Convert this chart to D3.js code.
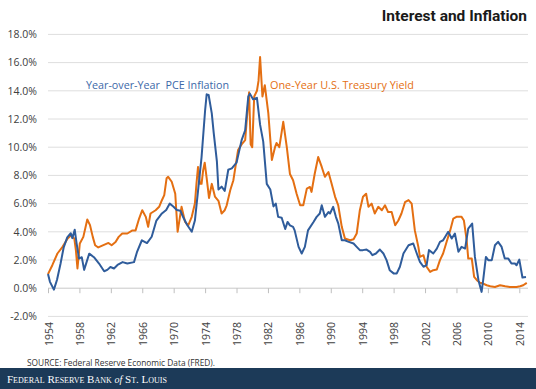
<!DOCTYPE html>
<html>
<head>
<meta charset="utf-8">
<script src="https://cdn.jsdelivr.net/npm/d3@7"></script>
<style>
  body { margin: 0; background: #fff; }
  svg { display: block; }
</style>
</head>
<body>
<svg id="chart"></svg>
<script>
// tick values
const yTicks = [-2, 0, 2, 4, 6, 8, 10, 12, 14, 16, 18];
const xTicks = [1954, 1958, 1962, 1966, 1970, 1974, 1978, 1982, 1986, 1990, 1994, 1998, 2002, 2006, 2010, 2014];

// Year-over-Year PCE inflation
const pceYears = [1954.0, 1954.25, 1954.75, 1955.15, 1955.6, 1956.0, 1956.45, 1956.9, 1957.1, 1957.4, 1957.65, 1957.95,
  1958.3, 1958.6, 1959.25, 1959.85, 1960.5, 1961.15, 1961.55, 1961.95, 1962.4, 1962.85, 1963.5, 1964.1, 1964.95,
  1965.35, 1965.95, 1966.6, 1967.2, 1967.8, 1968.5, 1969.05, 1969.5, 1969.95, 1970.4, 1970.85, 1971.2, 1971.7,
  1972.3, 1972.7, 1973.1, 1973.55, 1974.0, 1974.2, 1974.45, 1974.85, 1975.1, 1975.5, 1975.7, 1976.1, 1976.5,
  1976.95, 1977.4, 1978.0, 1978.65, 1979.1, 1979.5, 1979.7, 1980.1, 1980.6, 1981.0, 1981.4, 1981.85, 1982.3,
  1982.7, 1983.0, 1983.3, 1983.75, 1984.2, 1984.5, 1984.8, 1985.2, 1985.4, 1985.9, 1986.3, 1986.7, 1987.1, 1987.8,
  1988.2, 1988.6, 1988.85, 1989.25, 1989.7, 1989.9, 1990.3, 1990.65, 1990.95, 1991.4, 1991.8, 1992.2, 1992.9,
  1993.3, 1993.7, 1994.1, 1994.55, 1995.0, 1995.3, 1995.75, 1996.25, 1996.7, 1997.1, 1997.5, 1998.0, 1998.4,
  1998.8, 1999.25, 1999.9, 2000.5, 2000.95, 2001.35, 2001.8, 2002.2, 2002.5, 2003.05, 2003.5, 2003.9, 2004.3,
  2004.95, 2005.4, 2005.8, 2006.25, 2006.65, 2007.1, 2007.5, 2008.0, 2008.35, 2008.8, 2009.2, 2009.4, 2009.75,
  2010.05, 2010.5, 2010.9, 2011.3, 2011.75, 2012.15, 2012.6, 2013.0, 2013.45, 2013.65, 2014.0, 2014.4, 2014.85];
const pceValues = [1.0, 0.45, -0.1, 0.6, 1.75, 2.9, 3.6, 3.9, 3.55, 4.15, 3.15, 2.1,
  2.2, 1.3, 2.45, 2.2, 1.75, 1.2, 1.3, 1.5, 1.4, 1.65, 1.85, 1.75, 1.85,
  2.6, 3.4, 3.2, 3.65, 4.8, 5.3, 5.55, 6.0, 5.8, 5.55, 5.5, 5.05, 4.5,
  4.0, 4.8, 6.9, 9.3, 12.6, 13.75, 13.7, 12.4, 11.0, 9.0, 7.0, 7.2, 6.9,
  8.4, 8.5, 8.9, 10.5, 11.2, 13.6, 13.8, 13.4, 13.5, 11.6, 10.4, 7.4, 7.0,
  5.8, 6.0, 5.06, 5.0, 4.2, 4.7, 4.46, 4.35, 4.1, 2.93, 2.46, 2.93, 4.1, 4.7,
  5.06, 5.3, 5.88, 5.06, 5.4, 5.3, 5.77, 5.06, 4.6, 3.4, 3.4, 3.3, 3.17,
  2.93, 2.7, 2.7, 2.74, 2.58, 2.34, 2.46, 2.74, 2.46, 1.99, 1.28, 1.05, 1.05,
  1.52, 2.46, 3.05, 3.17, 2.46, 1.87, 1.52, 1.63, 2.7, 2.46, 2.81, 3.29, 3.4,
  4.0, 3.52, 3.88, 2.58, 2.93, 2.81, 4.23, 4.58, 2.22, 0.57, -0.26, 0.57, 2.22,
  1.99, 1.99, 3.05, 3.29, 2.93, 2.1, 2.1, 1.75, 1.75, 1.63, 2.03, 0.76, 0.8];

// One-year U.S. Treasury yield
const tsyYears = [1954.0, 1954.55, 1955.2, 1955.85, 1956.5, 1956.95, 1957.35, 1957.55, 1957.75, 1958.05, 1958.5,
  1959.0, 1959.35, 1959.7, 1960.0, 1960.4, 1961.05, 1961.7, 1962.1, 1962.6, 1963.0, 1963.45, 1964.1, 1964.75,
  1965.15, 1965.6, 1966.0, 1966.45, 1966.75, 1967.05, 1967.7, 1968.15, 1968.5, 1968.8, 1969.1, 1969.3, 1969.75,
  1970.2, 1970.5, 1970.8, 1971.0, 1971.45, 1971.85, 1972.3, 1972.7, 1972.9, 1973.1, 1973.35, 1973.55, 1973.75,
  1973.95, 1974.2, 1974.5, 1974.85, 1975.25, 1975.7, 1976.1, 1976.5, 1976.75, 1977.2, 1977.6, 1978.2, 1978.65,
  1979.1, 1979.4, 1979.6, 1979.8, 1980.0, 1980.25, 1980.6, 1980.8, 1981.0, 1981.3, 1981.6, 1982.05, 1982.5,
  1982.9, 1983.1, 1983.45, 1983.95, 1984.4, 1984.8, 1985.2, 1985.65, 1986.1, 1986.5, 1986.95, 1987.35, 1987.55,
  1987.95, 1988.4, 1988.85, 1989.25, 1989.7, 1990.1, 1990.55, 1990.95, 1991.4, 1991.8, 1992.45, 1992.9, 1993.3,
  1993.7, 1994.1, 1994.5, 1994.8, 1995.2, 1995.6, 1996.05, 1996.5, 1996.9, 1997.3, 1997.75, 1998.2, 1998.6,
  1999.0, 1999.45, 1999.9, 2000.3, 2000.7, 2001.15, 2001.35, 2001.8, 2002.2, 2002.65, 2003.05, 2003.5, 2003.9,
  2004.3, 2004.75, 2005.2, 2005.6, 2006.0, 2006.65, 2006.95, 2007.3, 2007.5, 2007.95, 2008.25, 2008.6, 2009.0,
  2009.4, 2009.85, 2010.3, 2010.9, 2011.55, 2012.2, 2012.8, 2013.65, 2014.1, 2014.5, 2014.95];
const tsyValues = [1.0, 1.63, 2.46, 2.93, 3.52, 3.76, 3.52, 2.7, 1.4, 3.17, 3.64,
  4.87, 4.47, 3.64, 3.05, 2.89, 3.05, 3.21, 3.05, 3.28, 3.64, 3.88, 3.88, 4.1,
  4.1, 4.94, 5.53, 5.06, 4.35, 5.3, 5.53, 5.77, 6.24, 6.6, 7.8, 7.9, 7.55,
  6.7, 4.0, 5.06, 5.77, 4.7, 4.46, 5.06, 6.0, 7.4, 8.6, 7.4, 7.4, 8.35,
  8.9, 7.8, 6.4, 7.4, 6.5, 6.2, 5.3, 5.53, 5.88, 6.95, 7.66, 9.8, 10.2,
  10.5, 12.6, 13.9, 10.2, 10.0, 13.6, 14.0, 14.7, 16.4, 13.6, 14.4, 12.4, 9.1,
  10.0, 10.3, 10.0, 11.8, 10.0, 8.1, 7.66, 6.7, 5.88, 5.88, 7.06, 7.18, 6.83,
  8.1, 9.3, 8.6, 7.9, 8.24, 7.43, 6.48, 5.88, 4.35, 3.52, 3.4, 3.47, 3.88,
  5.53, 6.48, 6.7, 5.77, 6.0, 5.3, 5.77, 5.53, 5.88, 5.4, 5.4, 4.46, 4.8,
  5.3, 6.1, 6.25, 6.0, 4.1, 2.93, 2.22, 2.34, 1.52, 1.16, 1.28, 1.33, 1.99,
  2.46, 3.29, 4.1, 4.94, 5.06, 5.06, 4.8, 3.4, 2.1, 2.1, 0.8, 0.57, 0.38,
  0.33, 0.21, 0.14, 0.09, 0.21, 0.14, 0.09, 0.09, 0.14, 0.21, 0.38];

const W = 536, H = 389;
const svg = d3.select("#chart").attr("width", W).attr("height", H);

const x = d3.scaleLinear().domain([1954, 2014]).range([48, 519.3]);
const y = d3.scaleLinear().domain([-2, 18]).range([316.4, 34.4]);
const gridRight = 528;

// title
svg.append("text")
  .attr("x", 527).attr("y", 21)
  .attr("text-anchor", "end")
  .attr("font-family", "Roboto, sans-serif")
  .attr("font-weight", "bold")
  .attr("font-size", 15.5)
  .attr("fill", "#1a1a1a")
  .text("Interest and Inflation");

// gridlines
svg.append("g")
  .selectAll("line")
  .data(yTicks)
  .join("line")
  .attr("x1", 48).attr("x2", gridRight)
  .attr("y1", d => y(d)).attr("y2", d => y(d))
  .attr("stroke", d => d === 0 ? "#c8c8c8" : "#dedede")
  .attr("stroke-width", 1);

// y axis labels
const yAxis = d3.axisLeft(y).tickValues(yTicks).tickSize(0).tickPadding(0)
  .tickFormat(d => d.toFixed(1) + "%");
svg.append("g")
  .attr("transform", "translate(37,0)")
  .call(yAxis)
  .call(g => g.select(".domain").remove())
  .call(g => g.selectAll("text")
    .attr("font-family", "'Open Sans', sans-serif")
    .attr("font-size", 10.5)
    .attr("fill", "#404040"));

// x axis: ticks on the 0% line, labels below the plot
const xAxis = d3.axisBottom(x).tickValues(xTicks).tickSize(5).tickFormat(d3.format("d"));
svg.append("g")
  .attr("transform", `translate(0,${y(0)})`)
  .call(xAxis)
  .call(g => g.select(".domain").remove())
  .call(g => g.selectAll(".tick line").attr("stroke", "#bfbfbf"))
  .call(g => g.selectAll(".tick text")
    .attr("font-family", "'Open Sans', sans-serif")
    .attr("font-size", 10.5)
    .attr("fill", "#404040")
    .attr("text-anchor", "end")
    .attr("dominant-baseline", "central")
    .attr("transform", `translate(0,${322 - y(0)}) rotate(-90)`)
    .attr("x", 0).attr("y", 0).attr("dy", null));

// series lines
const line = d3.line().x(d => x(d[0])).y(d => y(d[1]));
const tsy = tsyYears.map((t, i) => [t, tsyValues[i]]);
const pce = pceYears.map((t, i) => [t, pceValues[i]]);

svg.append("path")
  .datum(tsy)
  .attr("d", line)
  .attr("fill", "none")
  .attr("stroke", "#e46f12")
  .attr("stroke-width", 2)
  .attr("stroke-linejoin", "round");

svg.append("path")
  .datum(pce)
  .attr("d", line)
  .attr("fill", "none")
  .attr("stroke", "#2f5c9b")
  .attr("stroke-width", 2)
  .attr("stroke-linejoin", "round");

// series labels
svg.append("text")
  .attr("x", x(1958.84)).attr("y", y(14.45))
  .attr("dominant-baseline", "central")
  .attr("font-family", "'Open Sans', sans-serif")
  .attr("font-size", 11.5)
  .attr("fill", "#3c68a8")
  .attr("textLength", 143).attr("lengthAdjust", "spacingAndGlyphs")
  .attr("xml:space", "preserve")
  .text("Year-over-Year  PCE Inflation");

svg.append("text")
  .attr("x", x(1982.26)).attr("y", y(14.45))
  .attr("dominant-baseline", "central")
  .attr("font-family", "'Open Sans', sans-serif")
  .attr("font-size", 11.5)
  .attr("fill", "#e46f12")
  .attr("textLength", 144).attr("lengthAdjust", "spacingAndGlyphs")
  .text("One-Year U.S. Treasury Yield");

// source
svg.append("text")
  .attr("x", 27).attr("y", 362)
  .attr("dominant-baseline", "central")
  .attr("font-family", "'Open Sans', sans-serif")
  .attr("font-size", 8.5)
  .attr("fill", "#333")
  .attr("textLength", 188).attr("lengthAdjust", "spacingAndGlyphs")
  .text("SOURCE: Federal Reserve Economic Data (FRED).");

// footer band
svg.append("rect")
  .attr("x", 0).attr("y", 368).attr("width", W).attr("height", H - 368)
  .attr("fill", "#1c3a58");

const foot = svg.append("text")
  .attr("x", 7).attr("y", 383)
  .attr("font-family", "'Liberation Serif', serif")
  .attr("font-size", 11)
  .attr("fill", "#ffffff")
  .attr("font-variant", "small-caps");
foot.append("tspan").text("Federal Reserve Bank ");
foot.append("tspan").attr("font-style", "italic").attr("font-variant", "normal").attr("font-size", 10).text("of");
foot.append("tspan").text(" St. Louis");
</script>
</body>
</html>
